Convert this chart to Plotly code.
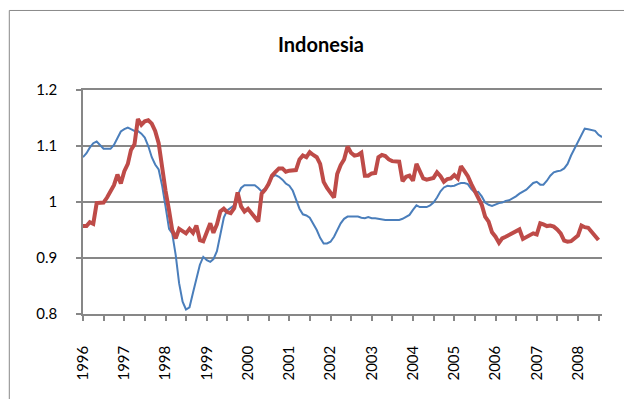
import pandas as pd
import plotly.graph_objects as go

# Monthly observations starting January 1996
start_month = "1996-01-01"

series_1 = [
    1.080, 1.087, 1.097, 1.105, 1.108, 1.102, 1.095, 1.095, 1.095, 1.102, 1.115, 1.126,
    1.130, 1.133, 1.130, 1.127, 1.127, 1.122, 1.115, 1.100, 1.080, 1.067, 1.058, 1.030,
    0.992, 0.952, 0.944, 0.905, 0.855, 0.822, 0.808, 0.812, 0.838, 0.865, 0.888, 0.902,
    0.896, 0.893, 0.898, 0.912, 0.940, 0.972, 0.985, 0.990, 0.994, 1.012, 1.025, 1.030,
    1.030, 1.030, 1.030, 1.025, 1.019, 1.024, 1.030, 1.045, 1.048, 1.045, 1.040, 1.033,
    1.029, 1.020, 1.005, 0.988, 0.978, 0.976, 0.972, 0.962, 0.950, 0.936, 0.926, 0.926,
    0.929, 0.938, 0.950, 0.962, 0.970, 0.974, 0.974, 0.974, 0.974, 0.972, 0.971, 0.973,
    0.971, 0.971, 0.970, 0.968, 0.968, 0.968, 0.968, 0.968, 0.968, 0.970, 0.973, 0.977,
    0.986, 0.994, 0.991, 0.991, 0.991, 0.994, 0.999, 1.008, 1.019, 1.026, 1.029, 1.028,
    1.029, 1.032, 1.034, 1.034, 1.032, 1.023, 1.017, 1.018, 1.010, 0.999, 0.995, 0.993,
    0.996, 0.998, 0.999, 1.002, 1.003, 1.006, 1.010, 1.015, 1.018, 1.022, 1.028, 1.034,
    1.036, 1.031, 1.031, 1.038, 1.047, 1.053, 1.055, 1.056, 1.060, 1.068, 1.083, 1.095,
    1.107, 1.118, 1.131, 1.130, 1.128, 1.127, 1.120, 1.116,
]

series_2 = [
    0.957, 0.957, 0.964, 0.961, 0.998, 0.998, 0.999, 1.008, 1.019, 1.030, 1.049, 1.033,
    1.055, 1.068, 1.093, 1.103, 1.148, 1.138, 1.144, 1.146, 1.140, 1.127, 1.105, 1.060,
    1.020, 0.985, 0.950, 0.935, 0.952, 0.948, 0.944, 0.952, 0.945, 0.958, 0.932, 0.930,
    0.944, 0.962, 0.945, 0.960, 0.983, 0.988, 0.982, 0.980, 0.989, 1.017, 0.992, 0.983,
    0.988, 0.981, 0.972, 0.965, 1.015, 1.022, 1.032, 1.047, 1.054, 1.060, 1.060, 1.054,
    1.056, 1.056, 1.057, 1.076, 1.083, 1.080, 1.089, 1.084, 1.080, 1.068, 1.036, 1.025,
    1.016, 1.008, 1.050, 1.066, 1.076, 1.099, 1.088, 1.083, 1.084, 1.088, 1.047, 1.047,
    1.051, 1.052, 1.080, 1.084, 1.082, 1.076, 1.073, 1.072, 1.072, 1.037, 1.045, 1.047,
    1.038, 1.068, 1.055, 1.042, 1.040, 1.042, 1.043, 1.053, 1.046, 1.036, 1.041, 1.042,
    1.048, 1.042, 1.064, 1.055, 1.046, 1.032, 1.020, 1.010, 0.995, 0.974, 0.965, 0.946,
    0.938, 0.927, 0.935, 0.938, 0.941, 0.944, 0.948, 0.951, 0.934, 0.937, 0.941, 0.944,
    0.942, 0.962, 0.960, 0.957, 0.958, 0.956, 0.951, 0.944, 0.931, 0.929, 0.930, 0.935,
    0.940, 0.958, 0.955, 0.954, 0.947, 0.938, 0.932,
]

year_labels = [str(y) for y in range(1996, 2009)]

months = pd.date_range(start_month, periods=len(series_1), freq="MS")

GRID = "#878787"
FONT = "Lato"

fig = go.Figure()
fig.add_trace(go.Scatter(
    x=months, y=series_1, mode="lines", name="Series 1",
    line=dict(color="#4a7ebb", width=2),
))
fig.add_trace(go.Scatter(
    x=months[:len(series_2)], y=series_2, mode="lines", name="Series 2",
    line=dict(color="#be4b48", width=4),
))

fig.update_layout(
    width=624, height=399,
    margin=dict(l=83, r=22, t=90, b=85),
    paper_bgcolor="white", plot_bgcolor="white",
    showlegend=False,
    font=dict(family=FONT, size=15, color="black"),
    title=dict(
        text="<b>Indonesia</b>", font=dict(family=FONT, size=20, color="black"),
        x=321 / 624, xref="container", xanchor="center",
        y=1 - 45 / 399, yref="container", yanchor="middle",
    ),
    shapes=[dict(
        type="rect", xref="paper", yref="paper",
        x0=-0.142, x1=1.06, y0=-0.45, y1=1.355,
        line=dict(color="#898989", width=1), fillcolor="rgba(0,0,0,0)",
        layer="below",
    )],
)

fig.update_xaxes(
    type="date",
    range=[months[0], months[-1]],
    tickmode="array",
    tickvals=[pd.Timestamp(f"{y}-01-01") for y in year_labels],
    ticktext=year_labels,
    tickangle=-90,
    ticks="outside", ticklen=5, tickwidth=1.5, tickcolor=GRID,
    minor=dict(dtick="M6", tick0="1996-01-01", ticks="outside", ticklen=5,
               tickwidth=1.5, tickcolor=GRID, showgrid=False),
    ticklabelstandoff=19,
    showgrid=False,
    showline=True, linecolor=GRID, linewidth=1.5, mirror=True,
    zeroline=False,
    automargin=False,
    tickfont=dict(family=FONT, size=15, color="black"),
)

fig.update_yaxes(
    range=[0.8, 1.2],
    tickmode="linear", tick0=0.8, dtick=0.1,
    ticks="outside", ticklen=5, tickwidth=1.5, tickcolor=GRID,
    ticklabelstandoff=16,
    showgrid=True, gridcolor=GRID, gridwidth=1.5,
    showline=True, linecolor=GRID, linewidth=1.5,
    zeroline=False,
    automargin=False,
    tickfont=dict(family=FONT, size=15, color="black"),
)

fig.write_html("out.html")
